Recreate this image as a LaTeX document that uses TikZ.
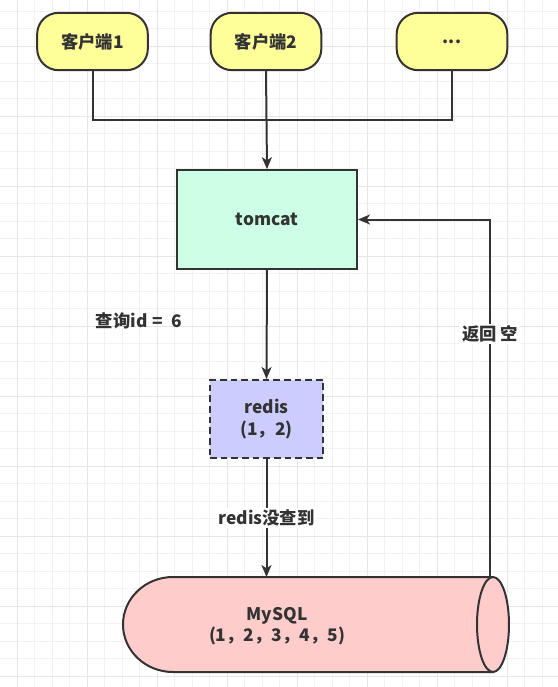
\documentclass[tikz,border=0pt]{standalone}
\usepackage{fontspec}
\setmainfont{Noto Sans CJK SC}
\usepackage{xcolor}
\usepackage{tikz}
\usetikzlibrary{calc,arrows.meta}
\definecolor{ink}{HTML}{333333}
\definecolor{clientfill}{HTML}{FFFF99}
\definecolor{serverfill}{HTML}{CCFFE6}
\definecolor{cachefill}{HTML}{CCCCFF}
\definecolor{dbfill}{HTML}{FFCCCC}
\definecolor{gridminor}{HTML}{F2F2F2}
\definecolor{gridmajor}{HTML}{E6E6E6}
\tikzset{
  txt/.style={text=ink, font=\bfseries\fontsize{13}{16}\selectfont, align=center},
  client/.style={txt, draw=ink, fill=clientfill, line width=1.5pt, rounded corners=16pt,
    minimum width=83pt, minimum height=43pt},
  server/.style={txt, draw=ink, fill=serverfill, line width=1.5pt,
    minimum width=135pt, minimum height=74pt},
  cache/.style={txt, draw=ink, fill=cachefill, line width=1.5pt,
    dash pattern=on 5pt off 3pt, minimum width=85pt, minimum height=58.5pt},
  db/.style={draw=ink, fill=dbfill, line width=1.5pt},
  link/.style={draw=ink, line width=1.5pt},
  arrow/.style={link, -{Stealth[length=9pt, width=7.5pt, inset=2.5pt]}},
  lbl/.style={txt, fill=white, inner sep=1.5pt}
}

\begin{document}
\begin{tikzpicture}[x=0.75pt, y=-0.75pt]
  \useasboundingbox (0,0) rectangle (558,687);
  % grid
  \foreach \k in {0,...,31} \draw[gridminor, line width=0.75pt] (17.3+17.5*\k,0) -- (17.3+17.5*\k,687);
  \foreach \k in {0,...,39} \draw[gridminor, line width=0.75pt] (0,11+17.5*\k) -- (558,11+17.5*\k);
  \foreach \k in {0,...,7} \draw[gridmajor, line width=0.75pt] (17.3+70*\k,0) -- (17.3+70*\k,687);
  \foreach \k in {0,...,9} \draw[gridmajor, line width=0.75pt] (0,46+70*\k) -- (558,46+70*\k);

  % clients
  \node[client] (c1) at (92.5,41.5) {客户端1};
  \node[client] (c2) at (266,41.5) {客户端2};
  \node[client] (c3) at (452,41.5) {...};
  \coordinate (bus) at (266,120);

  \node[server] (tomcat) at (267,219.5) {tomcat};
  \node[cache] (redis) at (266.5,419) {redis\\(1，2)};

  % mysql cylinder
  \draw[db] (493,577) -- (173,577) arc[start angle=270, end angle=90, x radius=50, y radius=47.5] -- (493,672) -- cycle;
  \draw[db] (493,624.5) ellipse[x radius=16, y radius=47.5];
  \node[txt] (mysql) at (277,626) {MySQL\\(1，2，3，4，5)};
  \coordinate (dbtop) at (266.5,577);
  \coordinate (dbret) at (490,577);

  % connectors
  \draw[link] (c1.south) |- (bus) -| (c3.south);
  \draw[arrow] (c2.south) -- (tomcat.north);
  \draw[arrow] (tomcat.south) -- (redis.north);
  \node[txt] (query) at (139,321) {查询id\hspace{4pt}=\hspace{6pt}6};
  \draw[arrow] (redis.south) -- node[lbl] (miss) {redis没查到} (dbtop);
  \draw[arrow] (dbret) |- node[lbl, pos=0.34] (ret) {返回 空} (tomcat.east);
\end{tikzpicture}
\end{document}
